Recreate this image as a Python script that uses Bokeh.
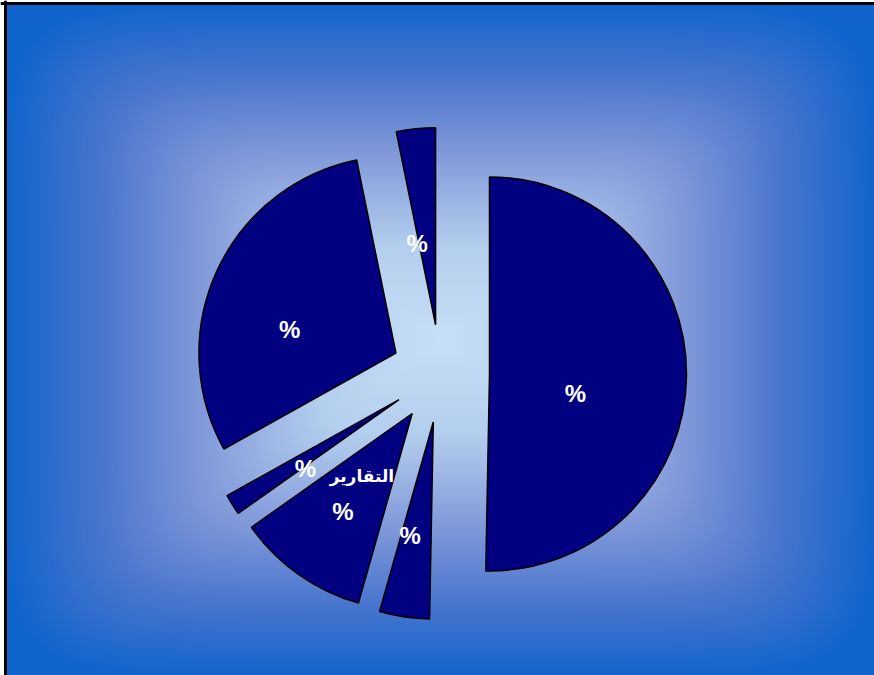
import numpy as np
from bokeh.plotting import figure
from bokeh.models import Range1d, ColumnDataSource, Span
from bokeh.core.properties import value
from bokeh.embed import file_html
from bokeh.resources import INLINE

# ---- data ----
categories = ["", "", "التقارير", "", "", ""]
shares = [50.3, 4.1, 10.8, 1.7, 29.9, 3.2]          # percent, clockwise from 12 o'clock
label_texts = ["%", "%", "%", "%", "%", "%"]

# ---- layout / style ----
W, H = 874, 675
CX, CY = 440, H - 373    # pie centre (data units = pixels)
R = 197
EXPLODE = 49
# label placement relative to each slice apex: (distance, angular nudge in degrees, clockwise)
label_dist = [88, 116, 120, 116, 109, 83]
label_nudge = [12, 3, 0, -4, -12, -7]

p = figure(width=W, height=H, output_backend="svg", toolbar_location=None,
           x_range=Range1d(0, W), y_range=Range1d(0, H), min_border=0,
           outline_line_color=None)
p.axis.visible = False
p.grid.visible = False
p.background_fill_color = "white"
p.border_fill_color = "white"

# background: rectangular path gradient (soft seams), slide starts at (5, 3)
x0, ytop = 5, 3
SW, SH = W - x0, H - ytop
yy, xx = np.mgrid[0:SH, 0:SW]
gcx, gcy = 440.0 - x0, SH - (340.0 - ytop)
u = np.abs(xx - gcx) / 436.0
v = np.abs(yy - gcy) / 338.0
k = 8.0
t = (u ** k + v ** k) ** (1.0 / k)
t = np.clip(t, 0, 1)
stops_t = [0.0, 0.28, 0.55, 0.78, 1.0]
stops_c = [(200, 224, 246), (180, 206, 238), (130, 154, 218), (74, 118, 206), (16, 100, 204)]
img = np.empty((SH, SW), dtype=np.uint32)
view = img.view(dtype=np.uint8).reshape((SH, SW, 4))
for ch in range(3):
    view[:, :, ch] = np.interp(t, stops_t, [c[ch] for c in stops_c]).astype(np.uint8)
view[:, :, 3] = 255
p.image_rgba(image=[img], x=x0, y=0, dw=SW, dh=SH)

# frame on left and top like the slide border
p.add_layout(Span(location=x0, dimension="height", line_color="black", line_width=3))
p.add_layout(Span(location=H - ytop, dimension="width", line_color="black", line_width=3))

# ---- wedges ----
tot = sum(shares)
cw_start, cw_end = [], []
acc = 0.0
for s in shares:
    cw_start.append(acc)
    acc += s / tot * 360.0
    cw_end.append(acc)

xs, ys, sa, ea, lx, ly = [], [], [], [], [], []
for i in range(len(shares)):
    bis = (cw_start[i] + cw_end[i]) / 2
    m = np.radians(90 - bis)
    ax = CX + EXPLODE * np.cos(m)
    ay = CY + EXPLODE * np.sin(m)
    xs.append(ax)
    ys.append(ay)
    sa.append(np.radians(90 - cw_end[i]))
    ea.append(np.radians(90 - cw_start[i]))
    ml = np.radians(90 - (bis + label_nudge[i]))
    lx.append(ax + label_dist[i] * np.cos(ml))
    ly.append(ay + label_dist[i] * np.sin(ml))

src = ColumnDataSource(dict(x=xs, y=ys, start=sa, end=ea, share=shares, cat=categories))
p.wedge(x="x", y="y", radius=R, start_angle="start", end_angle="end", source=src,
        fill_color="#000080", line_color="black", line_width=1.5)

lsrc = ColumnDataSource(dict(x=lx, y=ly, text=label_texts))
p.text(x="x", y="y", text="text", source=lsrc, text_color="white",
       text_font=value("Liberation Sans"), text_font_style="bold",
       text_font_size="24px", text_align="center", text_baseline="middle")

# category name above its label
cx_ = [lx[i] + 19 for i in range(len(categories)) if categories[i]]
cy_ = [ly[i] + 35 for i in range(len(categories)) if categories[i]]
ct_ = [c for c in categories if c]
p.text(x=cx_, y=cy_, text=ct_, text_color="white",
       text_font=value("DejaVu Sans"), text_font_style="bold",
       text_font_size="17px", text_align="center", text_baseline="middle")

open("out.html", "w").write(file_html(p, INLINE))
